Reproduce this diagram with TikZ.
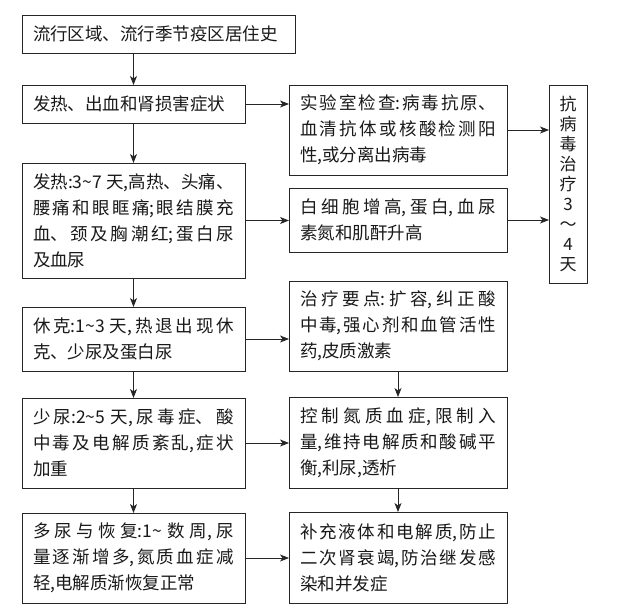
\documentclass[tikz,border=0pt]{standalone}
\usepackage{fontspec}
\newfontfamily\cjk{Noto Sans CJK SC}
\usetikzlibrary{arrows.meta}
\XeTeXlinebreaklocale "zh"
\XeTeXlinebreakskip=0pt plus 5pt
\XeTeXlinebreakpenalty=10000
\tolerance=10000
\newcommand{\tl}{\string~}
\tikzset{
  box/.style={draw=black!85, line width=0.8pt, anchor=north west, inner xsep=11pt,
    inner ysep=0pt, outer sep=0pt, font=\cjk\fontsize{17.5}{26}\selectfont,
    align=justify, text=black!90},
  lbox/.style={box, minimum width=223pt, text width=201pt},
  rbox/.style={box, minimum width=218pt, text width=196pt},
  arr/.style={draw=black!85, line width=0.8pt, -{Stealth[length=9pt,width=7pt,inset=2.5pt]}}
}
\begin{document}
\begin{tikzpicture}[x=1pt,y=-1pt]
\useasboundingbox (0,0) rectangle (625,608);
% left column
\node[box, minimum width=273pt, text width=251pt, minimum height=38pt] (b1) at (22,15) {流行区域、流行季节疫区居住史};
\node[lbox, minimum height=38pt] (b2) at (22,85) {发热、出血和肾损害症状};
\node[lbox, minimum height=115pt] (b3) at (22,163) {发热:3\tl7 天,高热、头痛、\linebreak 腰痛和眼眶痛;眼结膜充\linebreak 血、颈及胸潮红;蛋白尿\linebreak 及血尿};
\node[lbox, minimum height=64pt] (b4) at (22,307) {休克:1\tl3 天,热退出现休\linebreak 克、少尿及蛋白尿};
\node[lbox, minimum height=90pt] (b5) at (22,398) {少尿:2\tl5 天,尿毒症、酸\linebreak 中毒及电解质紊乱,症状\linebreak 加重};
\node[lbox, minimum height=90pt] (b6) at (22,513) {多尿与恢复:1\tl\ 数周,尿\linebreak 量逐渐增多,氮质血症减\linebreak 轻,电解质渐恢复正常};
% right column
\node[rbox, minimum height=90pt] (r1) at (289,85) {实验室检查:病毒抗原、\linebreak 血清抗体或核酸检测阳\linebreak 性,或分离出病毒};
\node[rbox, minimum height=64pt] (r2) at (289,188) {白细胞增高,蛋白,血尿\linebreak 素氮和肌酐升高};
\node[rbox, minimum height=90pt] (r3) at (289,281) {治疗要点:扩容,纠正酸\linebreak 中毒,强心剂和血管活性\linebreak 药,皮质激素};
\node[rbox, minimum height=91pt] (r4) at (289,397) {控制氮质血症,限制入\linebreak 量,维持电解质和酸碱平\linebreak 衡,利尿,透析};
\node[rbox, minimum height=91pt] (r5) at (289,512) {补充液体和电解质,防止\linebreak 二次肾衰竭,防治继发感\linebreak 染和并发症};
% tall box
\node[draw=black!85, line width=0.8pt, anchor=north west, inner sep=0pt, outer sep=0pt,
  minimum width=38pt, minimum height=198pt, align=center, text=black!90,
  font=\cjk\fontsize{17}{20}\selectfont] (t) at (549,85) {抗\\病\\毒\\治\\疗\\3\\～\\4\\天};
% arrows
\draw[arr] (b2.north |- b1.south) -- (b2.north);
\draw[arr] (b2.south) -- (b3.north);
\draw[arr] (b3.south) -- (b4.north);
\draw[arr] (b4.south) -- (b5.north);
\draw[arr] (b5.south) -- (b6.north);
\draw[arr] (b2.east) -- (r1.west |- b2.east);
\draw[arr] (b3.east) -- (r2.west |- b3.east);
\draw[arr] (b4.east) -- (r3.west |- b4.east);
\draw[arr] (b5.east) -- (r4.west |- b5.east);
\draw[arr] (b6.east) -- (r5.west |- b6.east);
\draw[arr] (r1.east) -- (t.west |- r1.east);
\draw[arr] (r2.east) -- (t.west |- r2.east);
\draw[arr] (r3.south) -- (r4.north);
\draw[arr] (r4.south) -- (r5.north);
\end{tikzpicture}
\end{document}
